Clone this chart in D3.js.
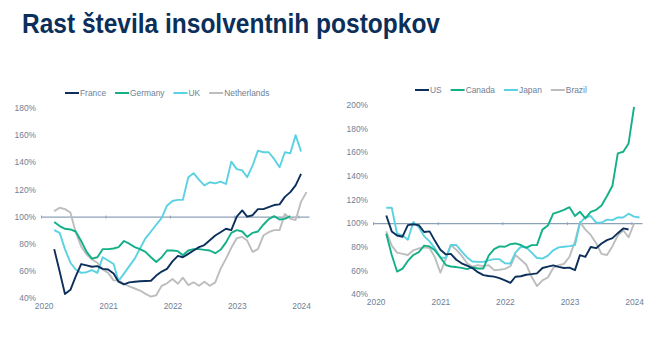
<!DOCTYPE html>
<html>
<head>
<meta charset="utf-8">
<script src="https://cdn.jsdelivr.net/npm/d3@7"></script>
<style>
  body { margin: 0; background: #fff; }
  svg { display: block; }
  text { font-family: "Liberation Sans", Arial, sans-serif; }
</style>
</head>
<body>
<svg id="chart" width="660" height="345"></svg>
<script>
// ---- data (monthly, first point = March 2020) ----
var titleText = "Rast števila insolventnih postopkov";
var yearLabels = [2020, 2021, 2022, 2023, 2024];
var leftTicks = [40, 60, 80, 100, 120, 140, 160, 180];
var rightTicks = [40, 60, 80, 100, 120, 140, 160, 180, 200];
var leftNames = ["France", "Germany", "UK", "Netherlands"];
var rightNames = ["US", "Canada", "Japan", "Brazil"];

var france = [76, 59.5, 43, 46, 56, 65, 64, 63, 63.5, 61.5,
  61, 58, 52, 50, 51.5, 52, 52.3, 52.5, 52.7, 56.5, 59.5, 61.5,
  67, 71, 70, 72.5, 75, 77.5, 79, 82.5, 86, 88.5, 91, 90,
  100, 104.5, 100, 101, 105.5, 105.5, 107, 108.5, 109, 114.5, 118, 123,
  131.5];
var germany = [96, 93, 91, 90.5, 89, 82, 74, 69, 70, 76,
  76, 76.5, 77.5, 82, 80, 77.5, 76, 74, 70, 66.5, 70, 75,
  75, 74.5, 71.5, 75, 76, 76, 75.5, 75, 73, 75.5, 81, 88,
  90, 89, 85, 88, 89, 94, 98, 100.3, 97.8, 98.3, 100.3];
var uk = [90, 88, 76, 66, 61, 58.5, 59, 60.5, 58.5, 70,
  67.6, 65, 52.5, 58, 63.5, 69, 76.5, 84, 89, 94, 99, 108,
  111.5, 112.3, 112.3, 129, 132, 127, 123, 125.3, 124.5, 125.8, 124, 140.5,
  135, 134, 129, 137.6, 148.6, 147.4, 147.4, 142.5, 136.3, 147.4, 146.6, 160,
  148];
var netherlands = [104, 106.5, 105.5, 103, 88.5, 78, 72, 68.5, 66, 61,
  58.5, 53, 53, 50.5, 48.5, 47, 45.5, 43, 41, 42, 49, 50.8,
  54, 50.5, 55, 49.5, 51.6, 49, 52, 49, 51.5, 61.5, 69, 77,
  84, 85, 82.3, 74, 76, 86, 88.5, 90, 90, 102, 98.5, 97.5,
  111, 118];

var us = [106.5, 93, 89.5, 88.5, 98.3, 99, 98.3, 92.5, 93, 85,
  77.5, 73.5, 74, 69, 66, 64, 62, 58.5, 56, 55.2, 54.7, 53.5,
  51.5, 49.5, 54.6, 55, 56.3, 56.8, 57.5, 62, 63.2, 64.2, 63, 62,
  62.3, 60.2, 72.9, 71.5, 79.8, 78.8, 82.7, 85.6, 87.3, 91.5, 95.5, 94.6];
var canada = [91, 73, 59, 61.5, 68, 73, 75.5, 81, 80.3, 77,
  71, 64.5, 63.3, 62.8, 62.1, 61, 62.5, 61.6, 61.6, 72.5, 78, 80.3,
  80, 82.2, 82.8, 81.5, 79, 81.4, 81.4, 94.5, 98, 108, 109.6, 111.2,
  113.5, 106, 109.6, 104, 109.6, 111.3, 115, 123, 131.7, 159, 160.4, 167.5,
  198.5];
var japan = [113, 113, 91, 89.5, 86, 101, 96.5, 89, 84.5, 78.6,
  71, 70.5, 81.5, 81.5, 76, 71, 67.5, 67.2, 67.2, 68.5, 69.5, 69.5,
  66, 65.8, 75, 80, 79.5, 75, 70.5, 70, 72.5, 77, 79.5, 80,
  80.5, 81.4, 100, 105, 106, 100.5, 100.3, 103, 102.5, 104.8, 104.8, 108,
  105.5, 104.8];
var brazil = [93, 81, 75, 74, 73, 77, 78.6, 79.5, 79, 71,
  58, 70, 81.4, 77.5, 72.5, 66, 63, 64.4, 63.6, 64.4, 60.2, 60.5,
  61.3, 63.5, 73, 69, 65, 54.6, 46.7, 51.5, 54, 62, 64.5, 65.5,
  71.5, 84.5, 101, 94.5, 90, 83, 74, 73, 80.5, 89.5, 94, 88,
  99.5];

var colors = ["#0d2f5b", "#13b088", "#5ad2e2", "#bdbdbd"];
var textColor = "#6e8198";
var axisColor = "#8ea2b7";

var svg = d3.select("#chart");

// title
svg.append("text")
  .attr("x", 22).attr("y", 33)
  .attr("font-size", 27).attr("font-weight", "bold")
  .attr("fill", "#0b2f5a")
  .attr("textLength", 418).attr("lengthAdjust", "spacingAndGlyphs")
  .text(titleText);

function monthDate(i) { return new Date(2020, 2 + i, 16); }

function drawPanel(opt) {
  var x = d3.scaleTime()
    .domain([new Date(2020, 0, 1), new Date(2024, 2, 1)])
    .range([opt.x0, opt.x1]);
  var y = d3.scaleLinear().domain([opt.ticks[0], opt.ticks[opt.ticks.length - 1]])
    .range([opt.yBottom, opt.yTop]);

  // y labels
  var ya = svg.append("g").attr("transform", "translate(" + opt.labelX + ",0)")
    .call(d3.axisLeft(y).tickValues(opt.ticks).tickSize(0).tickPadding(0)
      .tickFormat(function(d) { return d + "%"; }));
  ya.select(".domain").remove();
  ya.selectAll("text").attr("fill", textColor).attr("font-size", 8.4)
    .attr("font-family", "Liberation Sans, Arial, sans-serif");

  // baseline at 100%
  var xa = svg.append("g").attr("transform", "translate(0," + y(100) + ")")
    .call(d3.axisBottom(x).tickValues(yearLabels.map(function(v) { return new Date(v, 0, 1); }))
      .tickSize(2).tickSizeOuter(0).tickFormat(""));
  xa.select(".domain").attr("stroke", axisColor).attr("stroke-width", 1.3);
  xa.selectAll(".tick line").attr("stroke", axisColor).attr("y1", -1);

  // year labels
  var xl = svg.append("g").attr("transform", "translate(0," + opt.yearY + ")")
    .call(d3.axisBottom(x).tickValues(yearLabels.map(function(v) { return new Date(v, 0, 16); }))
      .tickSize(0).tickPadding(0).tickFormat(d3.timeFormat("%Y")));
  xl.select(".domain").remove();
  xl.selectAll("text").attr("fill", textColor).attr("font-size", 8.4)
    .attr("font-family", "Liberation Sans, Arial, sans-serif");

  var line = d3.line()
    .x(function(d, i) { return x(monthDate(i)); })
    .y(function(d) { return y(d); });

  // draw grey first so the others sit on top, like the original
  [3, 2, 1, 0].forEach(function(k) {
    svg.append("path")
      .datum(opt.series[k])
      .attr("fill", "none")
      .attr("stroke", colors[k])
      .attr("stroke-width", 1.9)
      .attr("stroke-linejoin", "round")
      .attr("d", line);
  });

  // legend
  var lx = opt.legendX;
  opt.names.forEach(function(n, k) {
    svg.append("line")
      .attr("x1", lx).attr("x2", lx + 14)
      .attr("y1", opt.legendY).attr("y2", opt.legendY)
      .attr("stroke", colors[k]).attr("stroke-width", 2);
    var t = svg.append("text")
      .attr("x", lx + 15).attr("y", opt.legendY + 3)
      .attr("font-size", 8.4).attr("fill", textColor)
      .text(n);
    lx += 15 + t.node().getComputedTextLength() + 9;
  });
}

drawPanel({
  x0: 41, x1: 309, yTop: 108, yBottom: 298, ticks: leftTicks,
  labelX: 36, yearY: 303, legendX: 65, legendY: 93,
  names: leftNames, series: [france, germany, uk, netherlands]
});

drawPanel({
  x0: 373, x1: 642, yTop: 105, yBottom: 294, ticks: rightTicks,
  labelX: 368, yearY: 299, legendX: 415, legendY: 90,
  names: rightNames, series: [us, canada, japan, brazil]
});
</script>
</body>
</html>
